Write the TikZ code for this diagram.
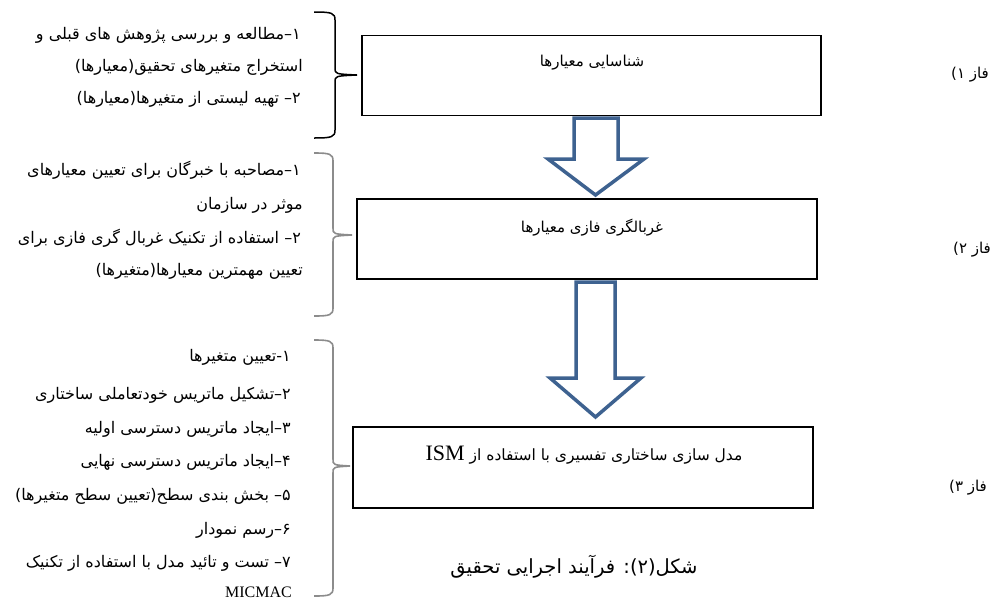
\documentclass[tikz,border=0pt]{standalone}
\usepackage{fontspec}
\setmainfont{Liberation Serif}
\newfontfamily\fa[Script=Arabic]{DejaVu Sans}
\TeXXeTstate=1
\usetikzlibrary{calc}
\definecolor{arrowblue}{HTML}{3E6290}
\definecolor{bracegray}{HTML}{8C8C8C}
\tikzset{
  stepbox/.style={draw=black, line width=1.8pt, minimum width=459pt, minimum height=80pt, inner sep=0pt},
  boxtext/.style={inner sep=0pt, font=\fa\fontsize{15}{18}\selectfont},
  listtext/.style={anchor=east, inner sep=0pt, font=\fa\fontsize{16}{19}\selectfont},
  phasetext/.style={anchor=east, inner sep=0pt, font=\fa\fontsize{15}{18}\selectfont},
  captiontext/.style={inner sep=0pt, font=\fa\fontsize{19.5}{23}\selectfont},
  blockarrow/.style={draw=arrowblue, line width=3.5pt, line join=miter, miter limit=10, fill=white},
  bracelineA/.style={draw=black, line width=1.5pt},
  bracelineB/.style={draw=bracegray, line width=1.6pt},
}
\newcommand\mybrace[7]{% style, left x, vertical x, top y, cusp y, bottom y, tip x
  \draw[#1] (#2,#4) .. controls (#3-3,#4) and (#3,#4+1) .. (#3,#4+8) -- (#3,#5-7)
    .. controls (#3,#5-1) .. (#7,#5) .. controls (#3,#5+1) .. (#3,#5+7)
    -- (#3,#6-8) .. controls (#3,#6-1) and (#3-3,#6) .. (#2,#6);}
\begin{document}
\begin{tikzpicture}[x=1pt,y=-1pt]
\useasboundingbox (0,0) rectangle (998,603);

% boxes
\node[stepbox] (b1) at (591.5,75.5) {};
\node[stepbox, minimum width=460pt] (b2) at (587,239) {};
\node[stepbox, minimum width=460pt, minimum height=81pt] (b3) at (583,467.5) {};

\node[boxtext] (t1) at (592,63) {\beginR شناسایی معیارها\endR};
\node[boxtext] (t2) at (592,228) {\beginR غربالگری فازی معیارها\endR};
\node[boxtext, font=\fa\fontsize{15.5}{18}\selectfont] (t3) at (584,455) {\beginR مدل سازی ساختاری تفسیری با استفاده از \beginL{\rmfamily\fontsize{22}{24}\selectfont ISM}\endL\endR};

% block arrows
\coordinate (a1) at (595.5,118);
\coordinate (a1tip) at (595.5,195);
\draw[blockarrow] (a1) ++(-21.5,0) -- ++(0,41) -- ++(-26,0) -- (a1tip) -- ++(48.5,-36) -- ++(-26,0) -- ++(0,-41) -- cycle;
\coordinate (a2) at (595.5,282);
\coordinate (a2tip) at (595.5,417);
\draw[blockarrow] (a2) ++(-19.5,0) -- ++(0,96) -- ++(-26,0) -- (a2tip) -- ++(45.5,-39) -- ++(-26,0) -- ++(0,-96) -- cycle;

% braces
\mybrace{bracelineA}{314}{335}{12}{75}{138}{357}
\mybrace{bracelineB}{314}{333}{153}{235}{316}{352}
\mybrace{bracelineB}{314}{333}{340}{466}{596}{350}

% phase 1 list
\node[listtext] (p1a) at (301,35) {\beginR ۱–مطالعه و بررسی پژوهش های قبلی و\endR};
\node[listtext] (p1b) at (303,67) {\beginR استخراج متغیرهای تحقیق(معیارها)\endR};
\node[listtext] (p1c) at (301,99) {\beginR ۲– تهیه لیستی از متغیرها(معیارها)\endR};

% phase 2 list
\node[listtext] (p2a) at (301,170) {\beginR ۱–مصاحبه با خبرگان برای تعیین معیارهای\endR};
\node[listtext] (p2b) at (303,205) {\beginR موثر در سازمان\endR};
\node[listtext] (p2c) at (301,238) {\beginR ۲– استفاده از تکنیک غربال گری فازی برای\endR};
\node[listtext] (p2d) at (303,271) {\beginR تعیین مهمترین معیارها(متغیرها)\endR};

% phase 3 list
\node[listtext] (p3a) at (291,357) {\beginR ۱-تعیین متغیرها\endR};
\node[listtext] (p3b) at (291,395) {\beginR ۲–تشکیل ماتریس خودتعاملی ساختاری\endR};
\node[listtext] (p3c) at (291,429) {\beginR ۳–ایجاد ماتریس دسترسی اولیه\endR};
\node[listtext] (p3d) at (291,462) {\beginR ۴–ایجاد ماتریس دسترسی نهایی\endR};
\node[listtext] (p3e) at (291,496) {\beginR ۵– بخش بندی سطح(تعیین سطح متغیرها)\endR};
\node[listtext] (p3f) at (291,530) {\beginR ۶–رسم نمودار\endR};
\node[listtext] (p3g) at (291,563) {\beginR ۷– تست و تائید مدل با استفاده از تکنیک\endR};
\node[anchor=east, inner sep=0pt, font=\rmfamily\fontsize{16}{20}\selectfont] (p3h) at (292,592) {MICMAC};

% phase labels
\node[phasetext] (f1) at (989,75) {\beginR فاز ۱)\endR};
\node[phasetext] (f2) at (991,250) {\beginR فاز ۲)\endR};
\node[phasetext] (f3) at (987,488) {\beginR فاز ۳)\endR};

% caption
\node[captiontext] (cap) at (574,567) {\beginR شکل(۲): فرآیند اجرایی تحقیق\endR};
\end{tikzpicture}
\end{document}
